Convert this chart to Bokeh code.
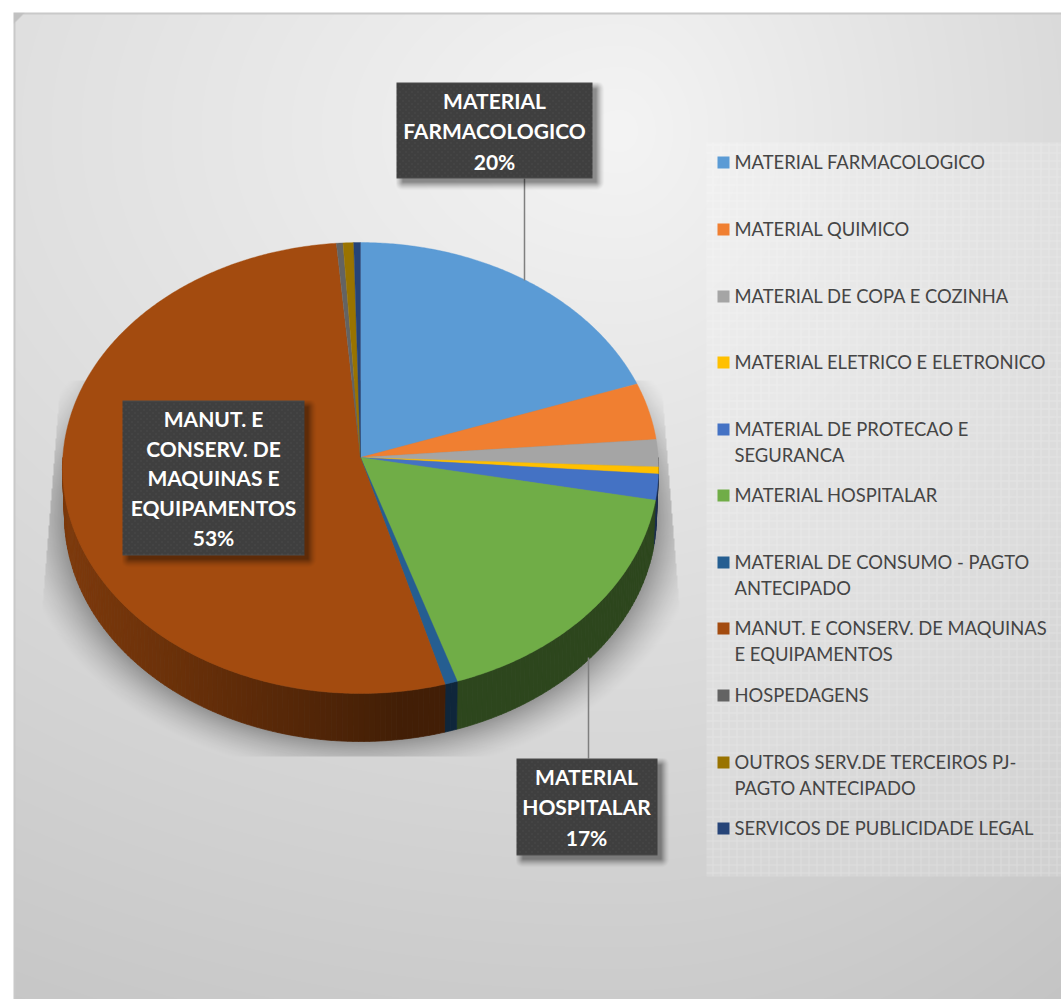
import numpy as np
from bokeh.plotting import figure
from bokeh.models import Range1d
from bokeh.core.properties import value
from bokeh.embed import file_html
from bokeh.resources import INLINE

# ---------- data ----------
categories = ["MATERIAL FARMACOLOGICO", "MATERIAL QUIMICO", "MATERIAL DE COPA E COZINHA",
              "MATERIAL ELETRICO E ELETRONICO", "MATERIAL DE PROTECAO E SEGURANCA",
              "MATERIAL HOSPITALAR", "MATERIAL DE CONSUMO - PAGTO ANTECIPADO",
              "MANUT. E CONSERV. DE MAQUINAS E EQUIPAMENTOS", "HOSPEDAGENS",
              "OUTROS SERV.DE TERCEIROS PJ-PAGTO ANTECIPADO", "SERVICOS DE PUBLICIDADE LEGAL"]
shares = [19.6, 4.1, 1.95, 0.5, 1.85, 16.95, 0.65, 53.0, 0.37, 0.6, 0.38]
colors = ["#5B9BD5", "#F07F31", "#A5A5A5", "#FFC000", "#4472C4", "#70AD47",
          "#255E91", "#A34B0F", "#636363", "#997300", "#264478"]
legend_lines = [["MATERIAL FARMACOLOGICO"], ["MATERIAL QUIMICO"], ["MATERIAL DE COPA E COZINHA"],
                ["MATERIAL ELETRICO E ELETRONICO"], ["MATERIAL DE PROTECAO E", "SEGURANCA"],
                ["MATERIAL HOSPITALAR"], ["MATERIAL DE CONSUMO - PAGTO", "ANTECIPADO"],
                ["MANUT. E CONSERV. DE MAQUINAS", "E EQUIPAMENTOS"], ["HOSPEDAGENS"],
                ["OUTROS SERV.DE TERCEIROS PJ-", "PAGTO ANTECIPADO"], ["SERVICOS DE PUBLICIDADE LEGAL"]]
labelled = {0: ["MATERIAL", "FARMACOLOGICO"],
            5: ["MATERIAL", "HOSPITALAR"],
            7: ["MANUT. E", "CONSERV. DE", "MAQUINAS E", "EQUIPAMENTOS"]}

# ---------- layout ----------
W, H = 1061, 999
def Y(y):
    return H - np.asarray(y, dtype=float)

p = figure(width=W, height=H, x_range=Range1d(0, W), y_range=Range1d(0, H),
           output_backend="svg", toolbar_location=None, min_border=0,
           x_axis_type=None, y_axis_type=None, background_fill_color="white",
           border_fill_color="white", outline_line_color=None)
p.grid.visible = False

def put_image(rgba, x0, y0):
    """rgba: float array h x w x 4 in 0..1, top row first, placed at pixel (x0, y0)."""
    h, w = rgba.shape[:2]
    a = (np.clip(rgba, 0, 1) * 255).astype(np.uint8)[::-1]
    img = a[..., 0].astype(np.uint32) | (a[..., 1].astype(np.uint32) << 8) | \
        (a[..., 2].astype(np.uint32) << 16) | (a[..., 3].astype(np.uint32) << 24)
    p.image_rgba(image=[img], x=[x0], y=[float(Y(y0 + h))], dw=[w], dh=[h])

# background gradient
X0, Y0 = 13, 12
yy, xx = np.mgrid[Y0:H, X0:W]
ax = np.where(xx < 620, 1500.0, 880.0)
d = np.sqrt(((xx - 620) / ax) ** 2 + ((yy - 130) / 1075.0) ** 2)
g = np.clip(244 - 50 * d, 196, 250) / 255
bg = np.dstack([g, g, g, np.ones_like(g)])
bg[:2, :, :3] = 0.79
bg[:, :2, :3] = 0.79
tri = ((xx - X0) + (yy - Y0)) < 11
bg[tri, :3] = 0.76
put_image(bg, X0, Y0)

# legend panel
px0, py0, px1, py1 = 706, 142, W, 876
yy, xx = np.mgrid[py0:py1, px0:px1]
alpha = 0.12 + 0.06 * (((xx + yy) % 2) == 0)
alpha = np.where((xx % 8 == 0) | (yy % 8 == 0), alpha + 0.16, alpha)
put_image(np.dstack([np.ones_like(alpha)] * 3 + [alpha]), px0, py0)

# pie shadow
sx0, sy0, sx1, sy1 = 40, 380, 680, 756
yy, xx = np.mgrid[sy0:sy1, sx0:sx1]
r = np.sqrt(((xx - 360) / 300.0) ** 2 + ((yy - 515) / 228.0) ** 2)
dist = (r - 1) * 265
alpha = 0.42 * np.clip((40 - dist) / 52, 0, 1) ** 1.5
clipL = 42 + (600 - yy).clip(0, 220) * 16 / 200
clipR = 678 - (600 - yy).clip(0, 220) * 16 / 200
alpha = np.where((xx < clipL) | (xx > clipR), 0, alpha)
put_image(np.dstack([np.zeros_like(alpha)] * 3 + [alpha]), sx0, sy0)

# pie geometry: a perspective view of a disc
cx, cy, a, b, k = 360.0, 457.0, 297.7, 225.0, -0.0466
depth, shrink = 48.0, 0.993

def rim(theta):
    u, v = np.sin(theta), -np.cos(theta)
    w = 1 + k * v
    return cx + a * u / w, cy + b * v / w

def to_rgb(h):
    return np.array([int(h[i:i + 2], 16) for i in (1, 3, 5)], dtype=float)

total = sum(shares)
edges = np.concatenate([[0], np.cumsum(shares)]) / total * 2 * np.pi

# side wall, back to front
xs_side, ys_side, fills = [], [], []
for i, col in enumerate(colors):
    lo, hi = max(edges[i], np.pi / 2), min(edges[i + 1], 3 * np.pi / 2)
    if hi <= lo:
        continue
    n = max(1, int((hi - lo) / np.radians(1.0)))
    t = np.linspace(lo, hi, n + 1)
    for t0, t1 in zip(t[:-1], t[1:]):
        x0, y0 = rim(t0)
        x1, y1 = rim(t1)
        bx0, bx1 = cx + (x0 - cx) * shrink, cx + (x1 - cx) * shrink
        xs_side.append([x0, x1, bx1, bx0])
        ys_side.append(list(Y([y0, y1, y1 + depth, y0 + depth])))
        f = 0.41 + 0.36 * np.clip((400 - (x0 + x1) / 2) / 335, 0, 1)
        rgb = to_rgb(col) * f
        fills.append("#%02x%02x%02x" % tuple(int(c) for c in rgb))
order = np.argsort([-abs(np.mean(v) - cx) for v in xs_side])
p.patches([xs_side[j] for j in order], [ys_side[j] for j in order],
          fill_color=[fills[j] for j in order], line_color=[fills[j] for j in order], line_width=0.7)

# top face
for i, col in enumerate(colors):
    n = max(2, int((edges[i + 1] - edges[i]) / np.radians(0.5)))
    t = np.linspace(edges[i], edges[i + 1], n + 1)
    rx, ry = rim(t)
    p.patch(np.r_[cx, rx], Y(np.r_[cy, ry]), fill_color=col, line_color=col, line_width=0.4)

# leader lines
p.line([524, 524], Y([178, 280]), line_color="#7f7f7f", line_width=1.5)
p.line([588, 588], Y([657, 758]), line_color="#7f7f7f", line_width=1.5)

# data labels
def label_box(x0, y0, x1, y1):
    pad = 14
    w, h = x1 - x0 + pad, y1 - y0 + pad
    yy, xx = np.mgrid[0:h, 0:w]
    bw = x1 - x0
    bh = y1 - y0
    dx = np.maximum(np.maximum(6 - xx, xx - (bw + 3)), 0)
    dy = np.maximum(np.maximum(6 - yy, yy - (bh + 3)), 0)
    sh = 0.42 * np.clip(1 - np.hypot(dx, dy) / 9, 0, 1) ** 1.5
    im = np.dstack([np.zeros_like(sh)] * 3 + [sh])
    col = np.full((bh, bw), 0.25)
    jj, ii = np.mgrid[0:bh, 0:bw]
    dots = ((ii % 6 == 3) & (jj % 6 == 3)) | ((ii % 6 == 0) & (jj % 6 == 0))
    col[dots] = 0.33
    col[:1, :] = 0.3
    col[-1:, :] = 0.3
    im[:bh, :bw, :3] = col[..., None]
    im[:bh, :bw, 3] = 1
    put_image(im, x0, y0)

boxes = {0: (396, 82, 592, 178, 494, [100, 130, 161]),
         5: (516, 758, 657, 855, 586, [776, 806, 837]),
         7: (122, 400, 304, 555, 213, [418, 448, 477, 507, 537])}
for i, lines in labelled.items():
    x0, y0, x1, y1, xc, rows = boxes[i]
    label_box(x0, y0, x1, y1)
    texts = lines + [f"{round(shares[i] / total * 100)}%"]
    p.text([xc] * len(texts), Y(rows), text=texts, text_font=value("Lato"), text_font_style="bold",
           text_font_size="21px", text_color="white", text_align="center", text_baseline="middle")

# legend
legend_rows = [161, 228, 295, 361, 428, 494, 561, 627, 694, 761, 827]
for lines, col, y in zip(legend_lines, colors, legend_rows):
    p.rect([723], Y([y + 1]), width=12, height=12, fill_color=col, line_color=None)
    ys = [y + 26 * n for n in range(len(lines))]
    p.text([734] * len(lines), Y(ys), text=lines, text_font=value("Lato"), text_font_size="18.4px",
           text_color="#454545", text_align="left", text_baseline="middle")

open("out.html", "w").write(file_html(p, INLINE))
